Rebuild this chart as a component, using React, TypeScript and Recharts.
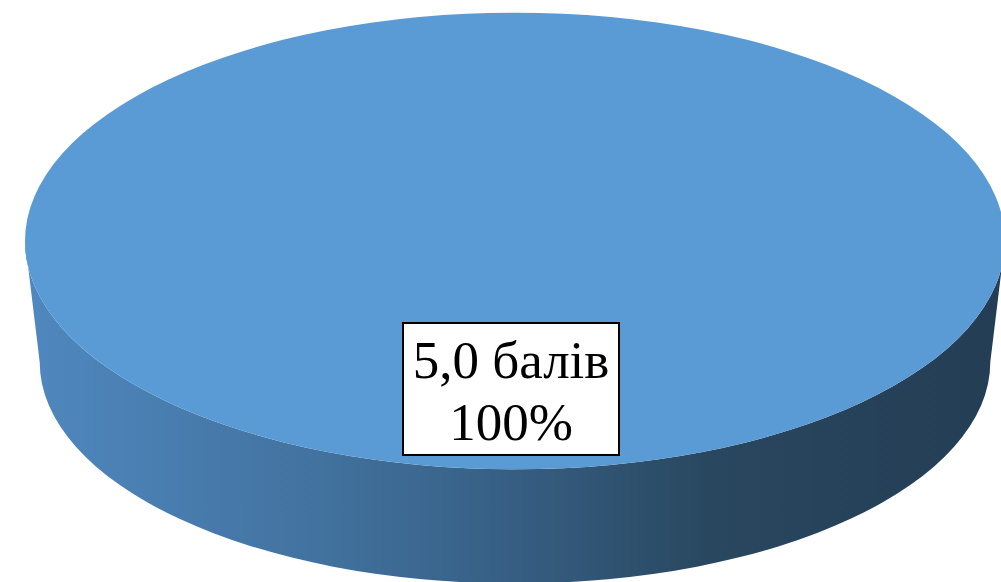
import { PieChart, Pie } from "recharts";

// one slice only: every respondent gave 5,0
const categories = ["5,0 балів"];
const shares = [100];

const data = categories.map((name, i) => ({ name, value: shares[i] }));

const TOP = "#5b9bd5";
const TILT = 0.466; // vertical squash of the top face
const DEPTH = 121; // how far the bottom rim sits below the top rim
const BOTTOM_SCALE = 0.97; // bottom rim is a touch narrower (perspective)

function Slice3D(props: any) {
	const { cx, cy, outerRadius } = props;
	const rx = outerRadius;
	const ry = outerRadius * TILT;
	const brx = rx * BOTTOM_SCALE;
	const bry = ry * BOTTOM_SCALE;
	const bcy = cy + DEPTH;
	const side = [
		`M ${cx - rx} ${cy}`,
		`A ${rx} ${ry} 0 0 0 ${cx + rx} ${cy}`,
		`L ${cx + brx} ${bcy}`,
		`A ${brx} ${bry} 0 0 1 ${cx - brx} ${bcy}`,
		"Z",
	].join(" ");
	return (
		<g>
			<defs>
				<linearGradient id="sideFill" x1="0" y1="0" x2="1" y2="0">
					<stop offset="0" stopColor="#4f88bf" />
					<stop offset="0.3" stopColor="#42729f" />
					<stop offset="0.5" stopColor="#365e83" />
					<stop offset="0.7" stopColor="#29475f" />
					<stop offset="1" stopColor="#233d54" />
				</linearGradient>
			</defs>
			<path d={side} fill="url(#sideFill)" />
			<ellipse cx={cx} cy={cy} rx={rx} ry={ry} fill={TOP} />
		</g>
	);
}

function SliceLabel(props: any) {
	const { cx, cy, outerRadius, name, percent } = props;
	const ry = outerRadius * TILT;
	const bx = cx - 4;
	const by = cy + ry * 0.67 - 5;
	const w = 216;
	const h = 132;
	return (
		<g>
			<rect x={bx - w / 2} y={by - h / 2} width={w} height={h} fill="#fff" stroke="#000" strokeWidth={2} />
			<text
				x={bx}
				textAnchor="middle"
				fontFamily="'Liberation Serif', 'Times New Roman', serif"
				fontSize={53}
				fill="#000"
			>
				<tspan x={bx} y={by - 11}>{name}</tspan>
				<tspan x={bx} y={by + 51}>{`${Math.round(percent * 100)}%`}</tspan>
			</text>
		</g>
	);
}

export default function App() {
	return (
		<div style={{ position: "absolute", left: 0, top: 0, width: 1001, height: 582, background: "#fff" }}>
			<PieChart width={1001} height={582}>
				<Pie
					data={data}
					dataKey="value"
					nameKey="name"
					cx={510}
					cy={236}
					outerRadius={490}
					startAngle={90}
					endAngle={-270}
					stroke="none"
					shape={Slice3D}
					label={SliceLabel}
					labelLine={false}
					isAnimationActive={false}
				/>
			</PieChart>
		</div>
	);
}
